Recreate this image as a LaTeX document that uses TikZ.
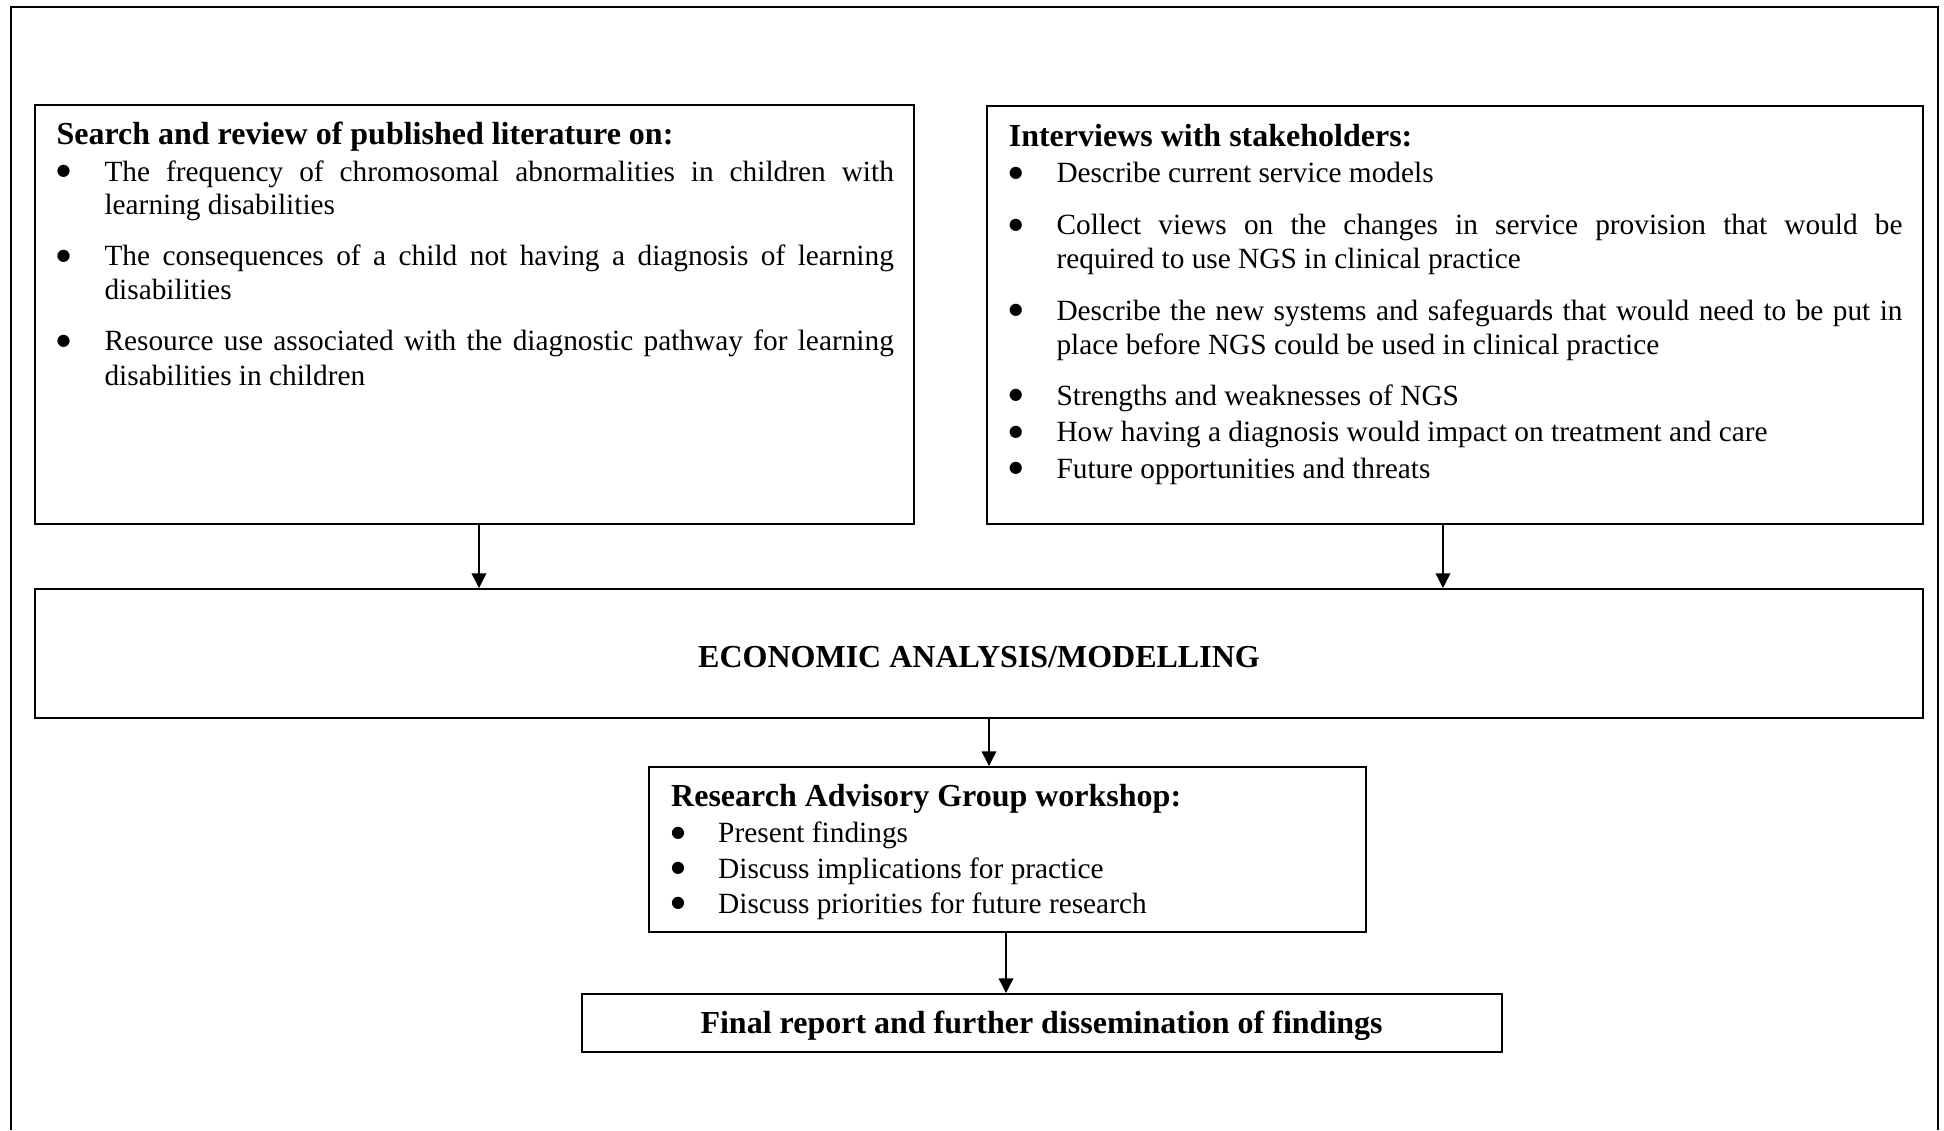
\documentclass[tikz,border=0pt]{standalone}
\usepackage{fontspec}
\setmainfont{Liberation Serif}
\newfontfamily\symfont{DejaVu Sans}
\usetikzlibrary{arrows.meta,fit}
\newcommand\bdot{{\symfont\fontsize{6}{6.5}\selectfont\raisebox{2.1pt}{●}}}
\begin{document}
\begin{tikzpicture}[x=0.375pt,y=-0.375pt,
  framest/.style={line width=0.75pt},
  boxst/.style={draw,line width=0.75pt,inner sep=0pt},
  arr/.style={line width=0.5pt,-{Triangle[length=5.5pt,width=5.5pt]}},
  txt/.style={anchor=base west,inner sep=0pt,font=\fontsize{11}{12.65}\selectfont},
  bul/.style={anchor=base west,inner sep=0pt},
  head/.style={anchor=base west,inner sep=0pt,font=\fontsize{12}{13.8}\selectfont\bfseries},
]
\useasboundingbox (0,0) rectangle (1944,1130);
% outer frame (open at the bottom)
\draw[framest] (10.7,1130) -- (10.7,6.7) -- (1938,6.7) -- (1938,1130);

% boxes
\node[boxst, fit={(35,105) (914,524)}] (lit) {};
\node[boxst, fit={(987,106) (1923,524)}] (int) {};
\node[boxst, fit={(35,589) (1923,718)}] (econ) {};
\node[boxst, fit={(649,767) (1366,932)}] (rag) {};
\node[boxst, fit={(581.5,994) (1501.7,1051.7)}] (fin) {};

% literature box text
\node[head] (litH) at (56,144.3) {Search and review of published literature on:};
\node[bul] (litB1) at (56,181) {\bdot};
\node[txt] (litL1) at (104,181) {\makebox[296pt][s]{The frequency of chromosomal abnormalities in children with}};
\node[txt] (litL2) at (104,214.3) {learning disabilities};
\node[bul] (litB2) at (56,265.7) {\bdot};
\node[txt] (litL3) at (104,265.7) {\makebox[296pt][s]{The consequences of a child not having a diagnosis of learning}};
\node[txt] (litL4) at (104,299.3) {disabilities};
\node[bul] (litB3) at (56,350.7) {\bdot};
\node[txt] (litL5) at (104,350.7) {\makebox[296pt][s]{Resource use associated with the diagnostic pathway for learning}};
\node[txt] (litL6) at (104,385) {disabilities in children};

% interviews box text
\node[head] (intH) at (1008.3,146.7) {Interviews with stakeholders:};
\node[bul] (intB1) at (1008.3,182.7) {\bdot};
\node[txt] (intL1) at (1056,182.7) {Describe current service models};
\node[bul] (intB2) at (1008.3,234.7) {\bdot};
\node[txt] (intL2) at (1056,234.7) {\makebox[317.25pt][s]{Collect views on the changes in service provision that would be}};
\node[txt] (intL3) at (1056,268.3) {required to use NGS in clinical practice};
\node[bul] (intB3) at (1008.3,320) {\bdot};
\node[txt] (intL4) at (1056,320) {\makebox[317.25pt][s]{Describe the new systems and safeguards that would need to be put in}};
\node[txt] (intL5) at (1056,354) {place before NGS could be used in clinical practice};
\node[bul] (intB4) at (1008.3,405) {\bdot};
\node[txt] (intL6) at (1056,405) {Strengths and weaknesses of NGS};
\node[bul] (intB5) at (1008.3,441.7) {\bdot};
\node[txt] (intL7) at (1056,441.7) {How having a diagnosis would impact on treatment and care};
\node[bul] (intB6) at (1008.3,478.3) {\bdot};
\node[txt] (intL8) at (1056,478.3) {Future opportunities and threats};

% economic box text
\node[head,anchor=base] (econT) at (979,667) {ECONOMIC ANALYSIS/MODELLING};

% workshop box text
\node[head] (ragH) at (670.7,806.7) {Research Advisory Group workshop:};
\node[bul] (ragB1) at (670.7,842.7) {\bdot};
\node[txt] (ragL1) at (717.7,842.7) {Present findings};
\node[bul] (ragB2) at (670.7,878.3) {\bdot};
\node[txt] (ragL2) at (717.7,878.3) {Discuss implications for practice};
\node[bul] (ragB3) at (670.7,913.3) {\bdot};
\node[txt] (ragL3) at (717.7,913.3) {Discuss priorities for future research};

% final box text
\node[head,anchor=base] (finT) at (1041.6,1033.3) {Final report and further dissemination of findings};

% connectors
\coordinate (xa) at (479,0);
\coordinate (xb) at (1443,0);
\coordinate (xc) at (989,0);
\coordinate (xd) at (1006,0);
\draw[arr] (xa |- lit.south) -- (xa |- econ.north);
\draw[arr] (xb |- int.south) -- (xb |- econ.north);
\draw[arr] (xc |- econ.south) -- (xc |- rag.north);
\draw[arr] (xd |- rag.south) -- (xd |- fin.north);
\end{tikzpicture}
\end{document}
